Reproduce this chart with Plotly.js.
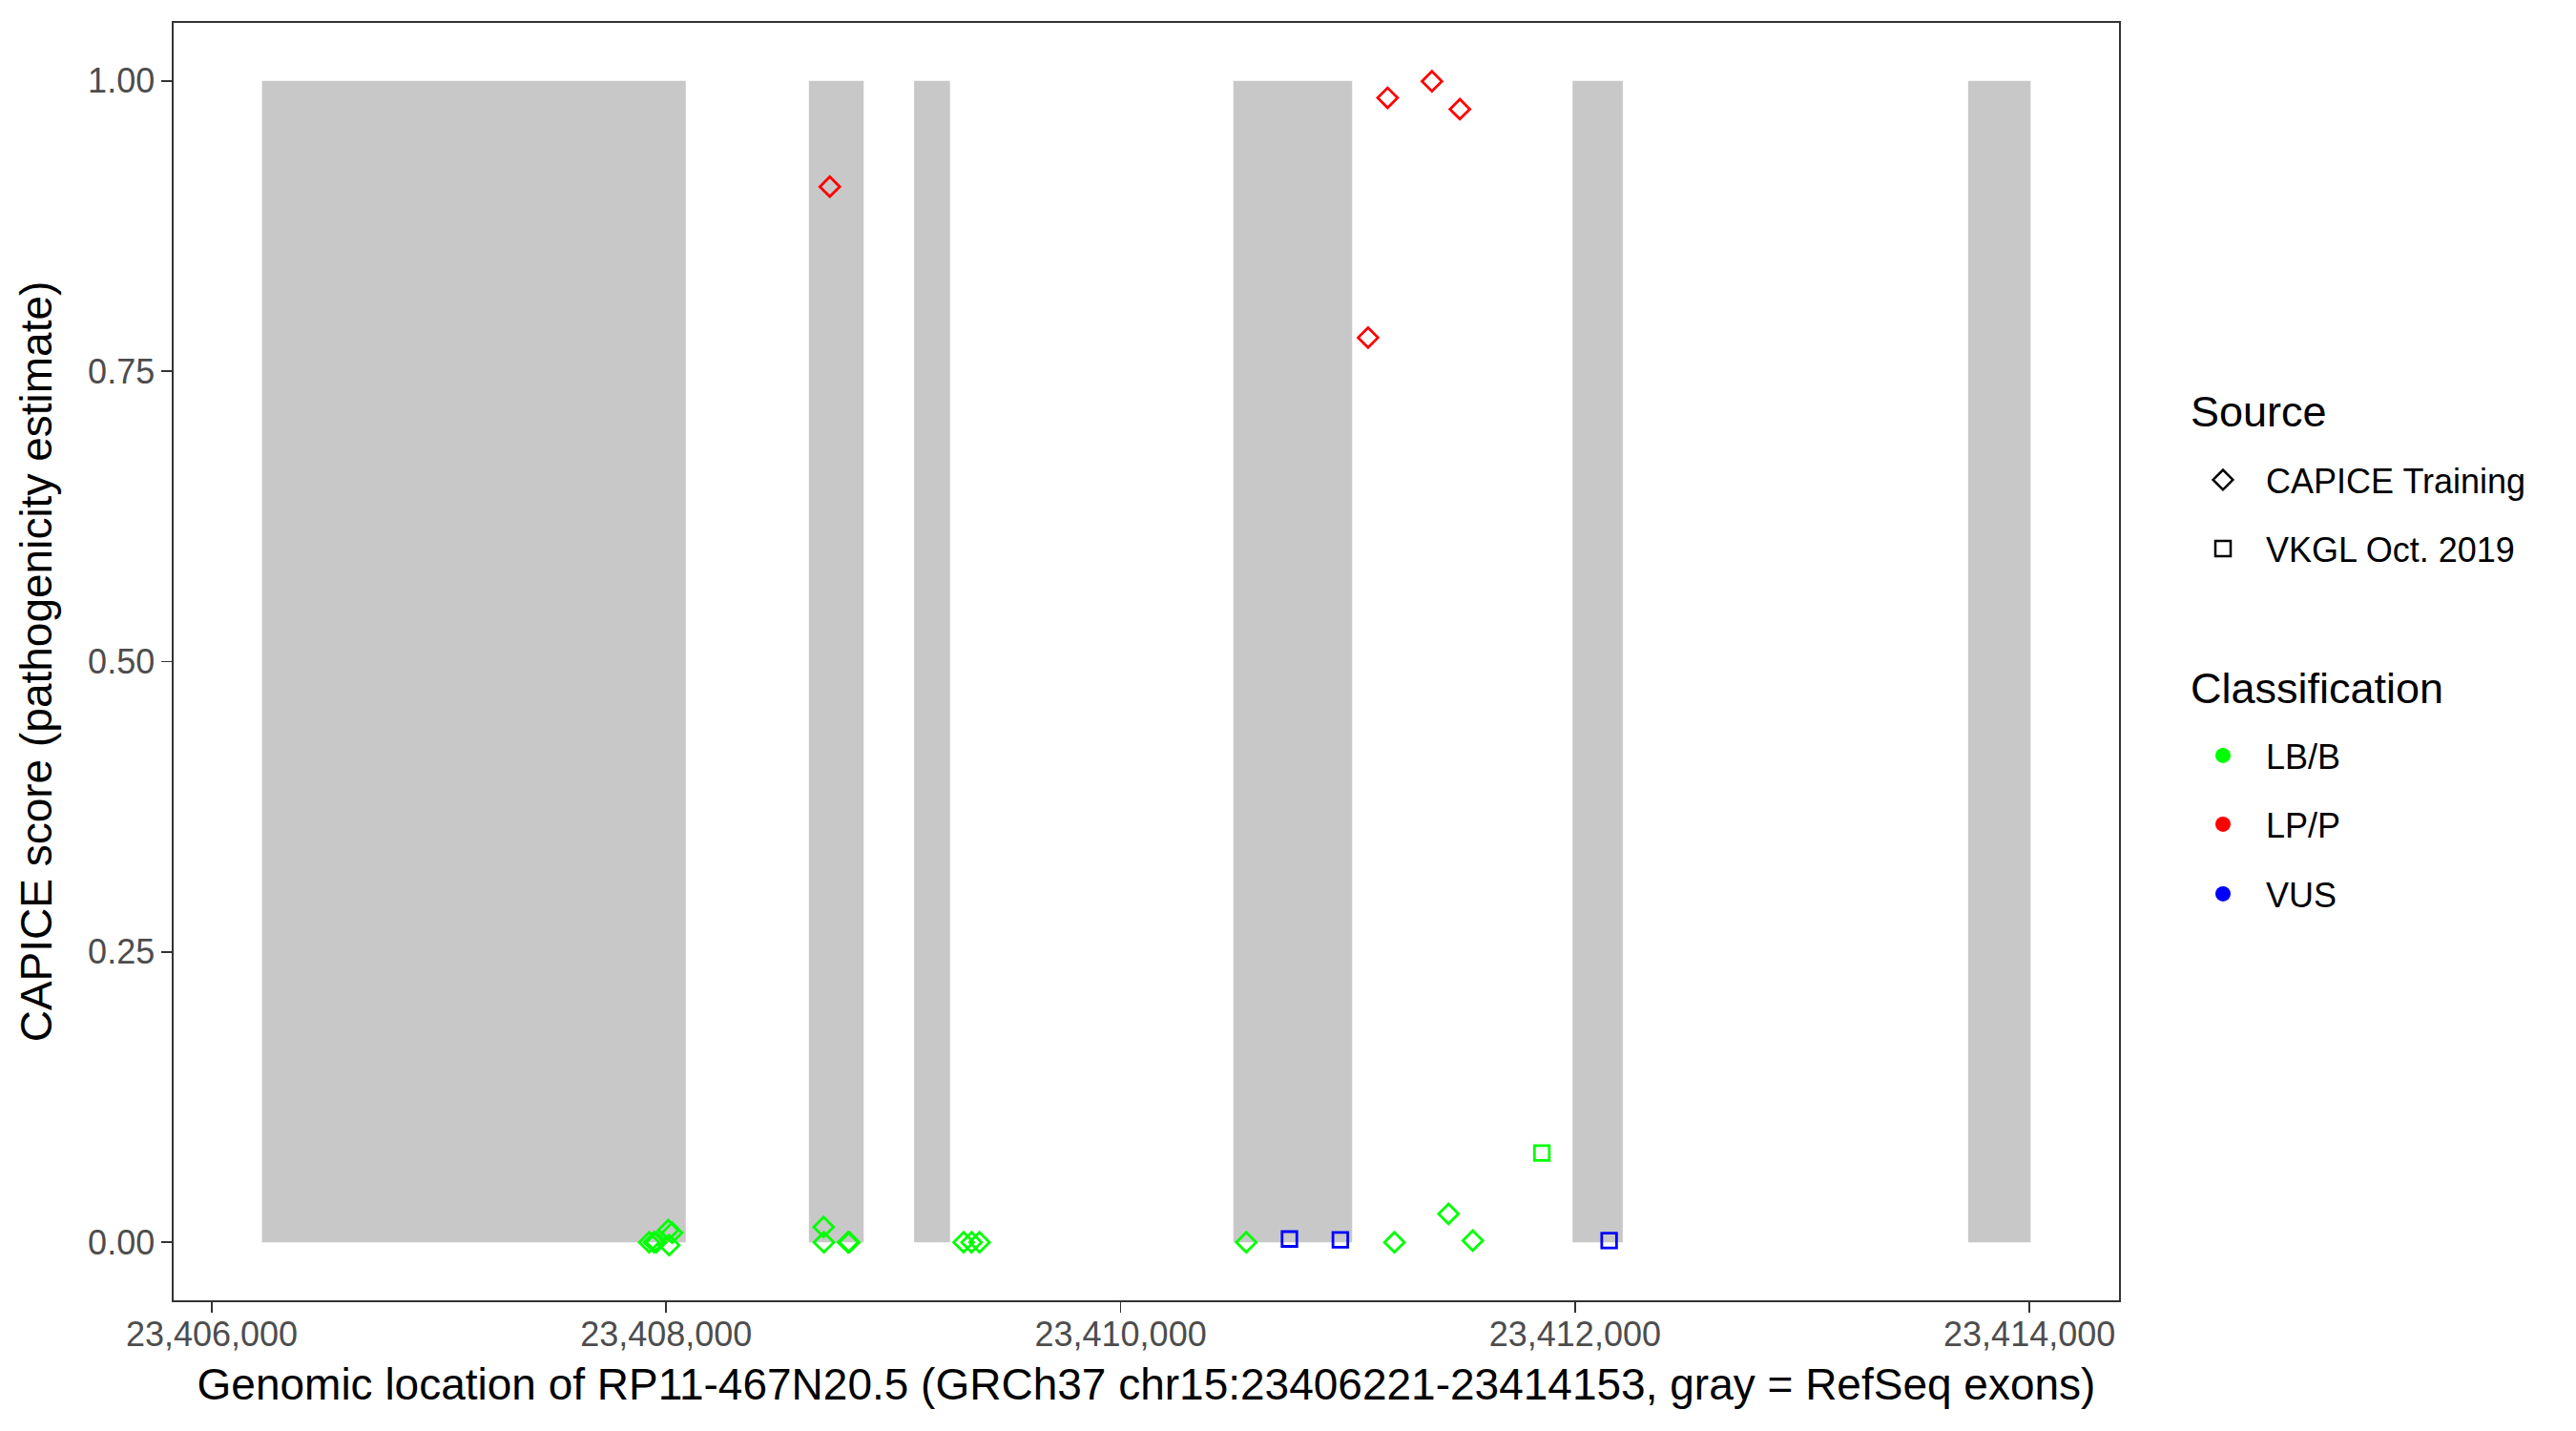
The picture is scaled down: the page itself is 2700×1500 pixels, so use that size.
<!DOCTYPE html>
<html>
<head>
<meta charset="utf-8">
<script src="https://cdn.plot.ly/plotly-3.0.1.min.js"></script>
<style>html,body{margin:0;padding:0;background:#fff;}</style>
</head>
<body>
<div id="chart" style="width:2700px;height:1500px;"></div>
<script>
// RefSeq exons (genomic start/end)
const exonStart = [23406221, 23408628, 23409091, 23410496, 23411989, 23413730];
const exonEnd   = [23408086, 23408869, 23409249, 23411019, 23412210, 23414005];

// CAPICE Training, LB/B
const capiceBenignPos   = [23407925, 23407946, 23407956, 23408009, 23408026, 23408013, 23408693, 23408694, 23408800, 23408806, 23409309, 23409344, 23409379, 23410553, 23411205, 23411443, 23411550];
const capiceBenignScore = [0.000, 0.000, 0.000, 0.0104, 0.0082, -0.0025, 0.0131, 0.000, 0.000, 0.000, 0.000, 0.000, 0.000, 0.000, 0.000, 0.0244, 0.0014];

// CAPICE Training, LP/P
const capicePathoPos   = [23408720, 23411089, 23411175, 23411370, 23411493];
const capicePathoScore = [0.909, 0.779, 0.9855, 0.9997, 0.9757];

// VKGL Oct. 2019, LB/B
const vkglBenignPos   = [23411854];
const vkglBenignScore = [0.0769];

// VKGL Oct. 2019, VUS
const vkglVusPos   = [23410743, 23410967, 23412150];
const vkglVusScore = [0.0028, 0.0020, 0.0014];

const xTicks = [23406000, 23408000, 23410000, 23412000, 23414000];
const yTicks = [0, 0.25, 0.5, 0.75, 1];

const sourceNames = ['CAPICE Training', 'VKGL Oct. 2019'];
const classNames = ['LB/B', 'LP/P', 'VUS'];

const FONT = 'Liberation Sans, Arial, Helvetica, sans-serif';
const GREEN = '#00FF00', RED = '#FF0000', BLUE = '#0000FF';
const DIAMOND_SIZE = 16, SQUARE_SIZE = 15.5, LW = 2.8;

function pts(x, y, symbol, color, size) {
  return {
    type: 'scatter', mode: 'markers', x: x, y: y, showlegend: false, hoverinfo: 'x+y',
    marker: {symbol: symbol, size: size, color: color, line: {color: color, width: LW}}
  };
}

const traces = [
  pts(capiceBenignPos, capiceBenignScore, 'diamond-open', GREEN, DIAMOND_SIZE),
  pts(capicePathoPos, capicePathoScore, 'diamond-open', RED, DIAMOND_SIZE),
  pts(vkglBenignPos, vkglBenignScore, 'square-open', GREEN, SQUARE_SIZE),
  pts(vkglVusPos, vkglVusScore, 'square-open', BLUE, SQUARE_SIZE)
];

// legend entries
const legendDefs = [
  {name: sourceNames[0], symbol: 'diamond-open', color: '#000000', size: 16, cy: 503},
  {name: sourceNames[1], symbol: 'square-open', color: '#000000', size: 16, cy: 575},
  {name: classNames[0], symbol: 'circle', color: GREEN, size: 16, cy: 792},
  {name: classNames[1], symbol: 'circle', color: RED, size: 16, cy: 864},
  {name: classNames[2], symbol: 'circle', color: BLUE, size: 16, cy: 937}
];
const layoutLegends = {};
legendDefs.forEach((d, i) => {
  const key = i === 0 ? 'legend' : 'legend' + (i + 1);
  traces.push({
    type: 'scatter', mode: 'markers', x: [null], y: [null], name: d.name,
    legend: key, showlegend: true,
    marker: {symbol: d.symbol, size: d.size, color: d.color,
             line: {color: d.color, width: d.symbol.indexOf('open') >= 0 ? 2.5 : 0}}
  });
  layoutLegends[key] = {
    xref: 'container', yref: 'container', x: 2285 / 2700, xanchor: 'left',
    y: 1 - d.cy / 1500, yanchor: 'middle', bgcolor: 'rgba(0,0,0,0)', borderwidth: 0,
    font: {family: FONT, size: 36, color: '#000000'}, itemwidth: 80
  };
});

const shapes = exonStart.map((s, i) => ({
  type: 'rect', xref: 'x', yref: 'y', x0: s, x1: exonEnd[i], y0: 0, y1: 1,
  fillcolor: '#C8C8C8', line: {width: 0}, layer: 'below'
}));

const axisCommon = {
  showline: true, mirror: true, linecolor: '#333333', linewidth: 1.6,
  ticks: 'outside', ticklen: 11, tickwidth: 1.6, tickcolor: '#333333',
  showgrid: false, zeroline: false,
  tickfont: {family: FONT, size: 36, color: '#4D4D4D'}
};

const layout = Object.assign({
  width: 2700, height: 1500,
  margin: {l: 182, r: 479, t: 24, b: 137},
  paper_bgcolor: '#FFFFFF', plot_bgcolor: '#FFFFFF',
  font: {family: FONT, color: '#000000'},
  xaxis: Object.assign({}, axisCommon, {
    range: [23405832, 23414394], tickvals: xTicks, tickformat: ',d', ticklabelstandoff: -8,
    title: {text: 'Genomic location of RP11-467N20.5 (GRCh37 chr15:23406221-23414153, gray = RefSeq exons)',
            font: {family: FONT, size: 46, color: '#000000'}, standoff: 17}
  }),
  yaxis: Object.assign({}, axisCommon, {
    range: [-0.05, 1.05], tickvals: yTicks, tickformat: '.2f',
    title: {text: 'CAPICE score (pathogenicity estimate)',
            font: {family: FONT, size: 46, color: '#000000'}, standoff: 23}
  }),
  shapes: shapes,
  annotations: [
    {text: 'Source', xanchor: 'left', yanchor: 'middle',
     showarrow: false, font: {family: FONT, size: 45, color: '#000000'}},
    {text: 'Classification', xanchor: 'left', yanchor: 'middle',
     showarrow: false, font: {family: FONT, size: 45, color: '#000000'}}
  ],
  showlegend: true
}, layoutLegends);

// place legend titles (pixel positions converted to paper fractions)
(function () {
  const l = 182, r = 479, t = 24, b = 137, W = 2700, H = 1500;
  const pw = W - l - r, ph = H - t - b;
  const pos = [[2294, 432], [2294, 722]];
  layout.annotations.forEach((a, i) => {
    a.xref = 'paper'; a.yref = 'paper';
    a.x = (pos[i][0] - l) / pw; a.y = (H - b - pos[i][1]) / ph;
  });
})();

Plotly.newPlot('chart', traces, layout, {staticPlot: true});
</script>
</body>
</html>
